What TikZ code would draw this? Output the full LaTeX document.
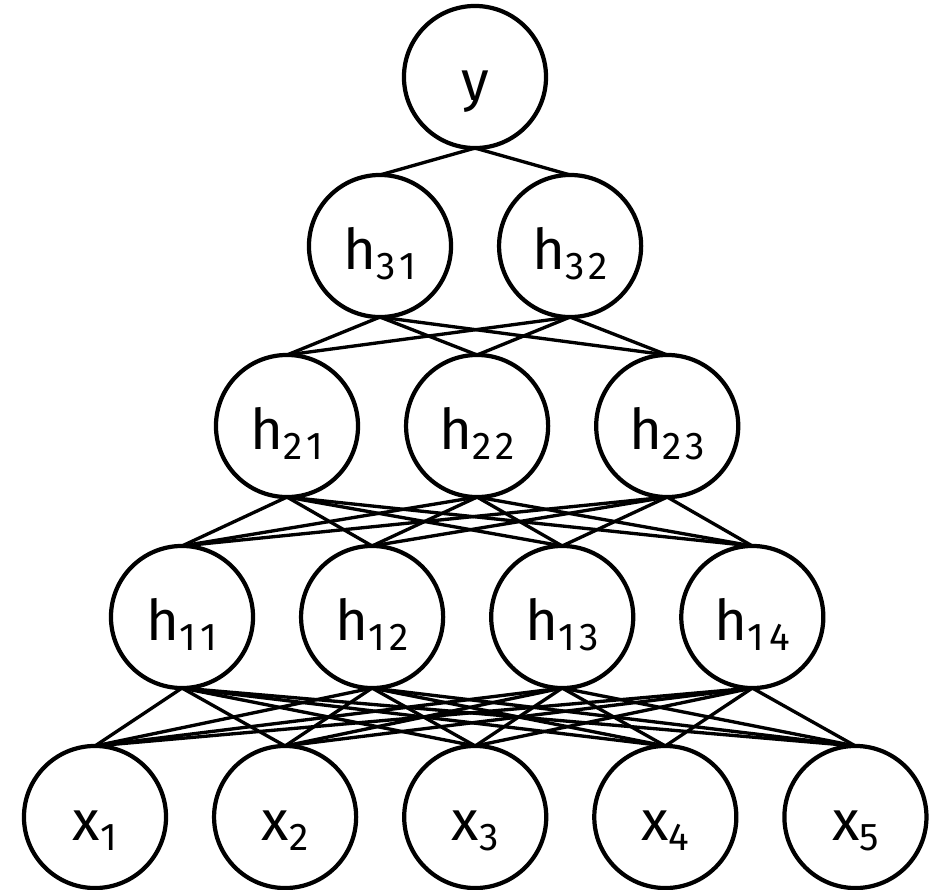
\documentclass[tikz,border=0pt]{standalone}
\usepackage{fontspec}
\setmainfont{Fira Sans}
\usepackage{tikz}
\usetikzlibrary{positioning}

% lowered index digits
\newcommand{\lsub}[1]{\raisebox{-0.35ex}{\fontsize{11}{11}\selectfont\addfontfeature{LetterSpace=12}#1}}

\begin{document}
\begin{tikzpicture}[x=0.01cm, y=-0.01cm,
  node distance=0.48cm,
  unit/.style={circle, draw, line width=1.2pt, fill=white, minimum size=1.42cm,
    inner sep=0pt, outer sep=0pt, text height=0.46cm, text depth=0cm,
    font=\fontsize{16}{18}\selectfont},
  edge/.style={line width=0.95pt},
]
  \useasboundingbox (0,0) rectangle (941,890);

  % Inputs
  \node[unit] (x1) at (95,817) {x\lsub{1}};
  \node[unit, right=of x1] (x2) {x\lsub{2}};
  \node[unit, right=of x2] (x3) {x\lsub{3}};
  \node[unit, right=of x3] (x4) {x\lsub{4}};
  \node[unit, right=of x4] (x5) {x\lsub{5}};

  % First hidden layer
  \node[unit] (h11) at (182,617) {h\lsub{11}};
  \node[unit, right=of h11] (h12) {h\lsub{12}};
  \node[unit, right=of h12] (h13) {h\lsub{13}};
  \node[unit, right=of h13] (h14) {h\lsub{14}};

  % Second hidden layer
  \node[unit] (h21) at (287,426) {h\lsub{21}};
  \node[unit, right=of h21] (h22) {h\lsub{22}};
  \node[unit, right=of h22] (h23) {h\lsub{23}};

  % Third hidden layer
  \node[unit] (h31) at (380,246) {h\lsub{31}};
  \node[unit, right=of h31] (h32) {h\lsub{32}};

  % Output
  \node[unit] (y) at (475,77) {y};

  % Full connections between layers
  \foreach \a in {1,...,5}
    \foreach \b in {1,...,4}
      \draw[edge] (x\a.north) -- (h1\b.south);
  \foreach \a in {1,...,4}
    \foreach \b in {1,2,3}
      \draw[edge] (h1\a.north) -- (h2\b.south);
  \foreach \a in {1,2,3}
    \foreach \b in {1,2}
      \draw[edge] (h2\a.north) -- (h3\b.south);
  \draw[edge] (h31.north) -- (y.south);
  \draw[edge] (h32.north) -- (y.south);

\end{tikzpicture}
\end{document}
